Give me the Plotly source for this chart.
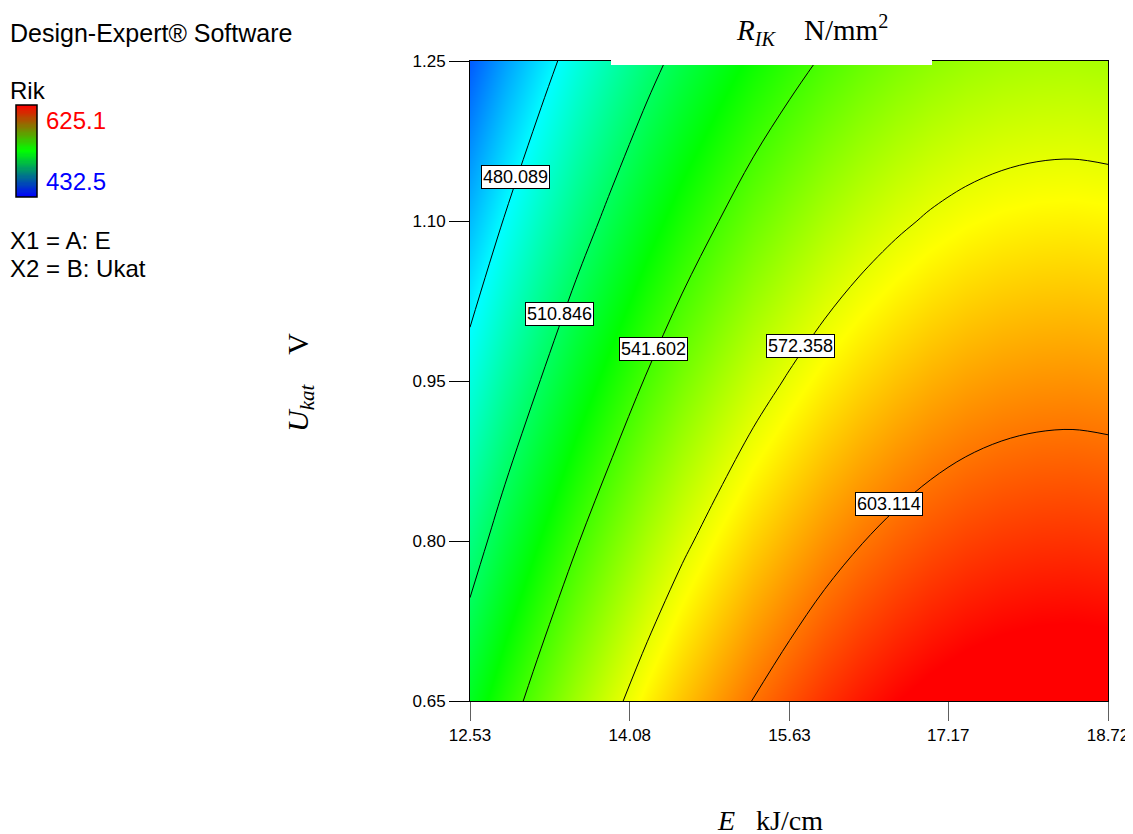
import numpy as np
import plotly.graph_objects as go

# Response surface of Rik (rows = Ukat, cols = E)
E_vals = [12.53, 12.87, 13.22, 13.56, 13.91, 14.25, 14.59, 14.94, 15.28, 15.63,
          15.97, 16.31, 16.66, 17.00, 17.34, 17.69, 18.03, 18.38, 18.72]
U_vals = [0.65, 0.80, 0.95, 1.10, 1.25]
rik = [
    [522.6, 535.5, 547.6, 558.8, 569.3, 579.1, 588.0, 596.1, 603.5, 610.0,
     615.8, 620.7, 624.9, 628.3, 630.9, 632.7, 633.7, 634.0, 633.4],
    [504.4, 517.3, 529.4, 540.6, 551.1, 560.9, 569.8, 577.9, 585.3, 591.8,
     597.6, 602.5, 606.7, 610.1, 612.7, 614.5, 615.5, 615.8, 615.2],
    [486.2, 499.1, 511.2, 522.4, 532.9, 542.7, 551.6, 559.7, 567.1, 573.6,
     579.4, 584.3, 588.5, 591.9, 594.5, 596.3, 597.3, 597.6, 597.0],
    [468.0, 480.9, 493.0, 504.2, 514.7, 524.5, 533.4, 541.5, 548.9, 555.4,
     561.2, 566.1, 570.3, 573.7, 576.3, 578.1, 579.1, 579.4, 578.8],
    [449.8, 462.7, 474.8, 486.0, 496.5, 506.3, 515.2, 523.3, 530.7, 537.2,
     543.0, 547.9, 552.1, 555.5, 558.1, 559.9, 560.9, 561.2, 560.6],
]
levels = [480.089, 510.846, 541.602, 572.358, 603.114]
rik_min, rik_max = 432.5, 625.1

x_ticks = [12.53, 14.08, 15.63, 17.17, 18.72]
x_ticktext = ["12.53", "14.08", "15.63", "17.17", "18.72"]
y_ticks = [0.65, 0.80, 0.95, 1.10, 1.25]
y_ticktext = ["0.65", "0.80", "0.95", "1.10", "1.25"]

# where the contour labels sit (E, Ukat)
label_pos = [(12.97, 1.141), (13.40, 1.013), (14.31, 0.980), (15.74, 0.983), (16.60, 0.835)]

W, H = 1133, 834
OFF = 8  # the page body margin shifts the figure by 8px
def px(x): return (x - OFF) / W
def py(y): return 1 - (y - OFF) / H

rainbow = [[0, "rgb(0,0,255)"], [0.25, "rgb(0,255,255)"], [0.5, "rgb(0,255,0)"],
           [0.75, "rgb(255,255,0)"], [1, "rgb(255,0,0)"]]
legend_scale = [[0, "rgb(0,0,255)"], [0.5, "rgb(0,255,0)"], [1, "rgb(255,0,0)"]]

fig = go.Figure()

fig.add_trace(go.Heatmap(
    x=E_vals, y=U_vals, z=rik, zsmooth="best", zmin=rik_min, zmax=rik_max,
    colorscale=rainbow, showscale=False, hoverinfo="skip"))

step = levels[1] - levels[0]
fig.add_trace(go.Contour(
    x=E_vals, y=U_vals, z=rik, showscale=False, hoverinfo="skip",
    contours=dict(start=levels[0], end=levels[-1] + step / 10, size=step, coloring="none"),
    line=dict(color="black", width=1, smoothing=1)))

# small colour legend bar on the left
bar_vals = np.linspace(rik_min, rik_max, 80)
fig.add_trace(go.Heatmap(
    x=[0, 1], y=bar_vals, z=[[v, v] for v in bar_vals], colorscale=legend_scale,
    zmin=rik_min, zmax=rik_max, showscale=False, xaxis="x2", yaxis="y2", hoverinfo="skip"))

axis_font = dict(family="Arial, Liberation Sans", size=17, color="black")
fig.update_layout(
    width=W, height=H, autosize=False,
    margin=dict(l=0, r=0, t=0, b=0, pad=0, autoexpand=False),
    paper_bgcolor="white", plot_bgcolor="white", showlegend=False,
    xaxis=dict(domain=[px(470), px(1108)], range=[12.53, 18.72], tickvals=x_ticks,
               ticktext=x_ticktext, ticks="outside", ticklen=19, tickcolor="#606060",
               showline=True, mirror=True, linecolor="black", linewidth=1, automargin=False,
               showgrid=False, zeroline=False, tickfont=axis_font, anchor="y"),
    yaxis=dict(domain=[py(701), py(61)], range=[0.65, 1.25], tickvals=y_ticks,
               ticktext=y_ticktext, ticks="outside", ticklen=20, tickcolor="black",
               showline=True, mirror=True, linecolor="black", linewidth=1, automargin=False,
               showgrid=False, zeroline=False, tickfont=axis_font, anchor="x"),
    xaxis2=dict(domain=[px(16), px(37)], range=[-0.5, 1.5], visible=False, anchor="y2",
                automargin=False),
    yaxis2=dict(domain=[py(197), py(105)], range=[rik_min, rik_max], visible=False, anchor="x2",
                automargin=False),
)

shapes = [
    dict(type="rect", xref="paper", yref="paper", x0=px(611), x1=px(932), y0=py(65), y1=1,
         fillcolor="white", line=dict(width=0), layer="above"),
    dict(type="rect", xref="paper", yref="paper", x0=px(16), x1=px(37), y0=py(197), y1=py(105),
         fillcolor="rgba(0,0,0,0)", line=dict(color="black", width=1.5), layer="above"),
]
fig.update_layout(shapes=shapes)

ann = []
for lv, (ex, uy) in zip(levels, label_pos):
    ann.append(dict(x=ex, y=uy, xref="x", yref="y", text=f"{lv:.3f}", showarrow=False,
                    xanchor="center", yanchor="middle",
                    font=dict(family="Arial, Liberation Sans", size=18, color="black"),
                    bgcolor="white", bordercolor="black", borderwidth=1, borderpad=1))

serif = "Times New Roman, Liberation Serif"
sans = "Arial, Liberation Sans"
sp = "&nbsp;"

def text_at(x, y, text, size, color="black", family=sans, xanchor="left", angle=0):
    return dict(x=px(x), y=py(y), xref="paper", yref="paper", showarrow=False,
                xanchor=xanchor, yanchor="middle", textangle=angle, text=text,
                font=dict(family=family, size=size, color=color))

ann += [
    text_at(812, 30, "<i>R</i><sub><i>IK</i></sub>" + sp * 4 + "N/mm<sup>2</sup>", 29,
            family=serif, xanchor="center"),
    text_at(770, 820, "<i>E</i>" + sp * 3 + "kJ/cm", 28, family=serif, xanchor="center"),
    text_at(300, 383, "<i>U</i><sub><i>kat</i></sub>" + sp * 4 + "V", 30, family=serif,
            xanchor="center", angle=-90),
    text_at(8, 33, "Design-Expert® Software", 25),
    text_at(8, 90, "Rik", 24),
    text_at(44, 120, "625.1", 24, color="red"),
    text_at(44, 181, "432.5", 24, color="blue"),
    text_at(8, 240, "X1 = A: E", 24),
    text_at(8, 268, "X2 = B: Ukat", 24),
]
fig.update_layout(annotations=ann)

fig.write_html("out.html")
